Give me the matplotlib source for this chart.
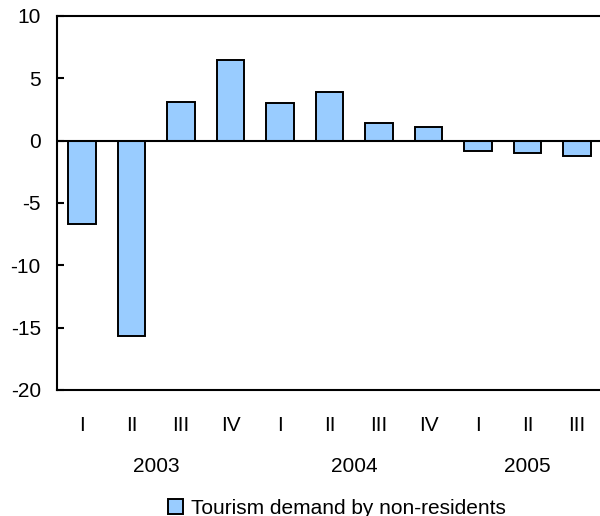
import matplotlib.pyplot as plt
from matplotlib.patches import Patch

# quarterly change, tourism demand by non-residents
quarters = ['I', 'II', 'III', 'IV', 'I', 'II', 'III', 'IV', 'I', 'II', 'III']
values = [-6.7, -15.7, 3.1, 6.5, 3.0, 3.9, 1.4, 1.1, -0.8, -1.0, -1.2]
years = ['2003', '2004', '2005']
year_pos = [1.5, 5.5, 9.0]
series_name = 'Tourism demand by non-residents'

plt.rcParams['font.family'] = ['Liberation Sans', 'DejaVu Sans']
plt.rcParams['font.size'] = 15
plt.rcParams['axes.unicode_minus'] = False

fig = plt.figure(figsize=(6.0, 5.16), dpi=100)
ax = fig.add_axes([0.0958, 0.2442, 0.9075, 0.7248])

x = list(range(len(values)))
ax.bar(x, values, width=0.555, color='#99ccff', edgecolor='black', linewidth=1.4, zorder=2)
ax.axhline(0, color='black', linewidth=1.5, zorder=3)

ax.set_xlim(-0.5, len(values) - 0.5)
ax.set_ylim(-20, 10)
ax.set_yticks([-20, -15, -10, -5, 0, 5, 10])
ax.set_xticks(x)
ax.set_xticklabels(quarters)
ax.tick_params(axis='x', length=0, pad=18.5)
ax.tick_params(axis='y', direction='in', length=5, width=1.5, pad=12)

for side in ['left', 'bottom', 'top']:
    ax.spines[side].set_linewidth(1.5)
ax.spines['right'].set_visible(False)

# year labels under the quarter labels
for xp, yr in zip(year_pos, years):
    ax.text(xp, -0.205, yr, transform=ax.get_xaxis_transform(), ha='center', va='center')

handle = Patch(facecolor='#99ccff', edgecolor='black', linewidth=1.4)
fig.legend([handle], [series_name], loc='center', bbox_to_anchor=(0.562, 1 - 508 / 516),
           frameon=False, handlelength=0.72, handleheight=0.72, handletextpad=0.4,
           borderpad=0, borderaxespad=0)

fig.savefig('out.png', dpi=100)
